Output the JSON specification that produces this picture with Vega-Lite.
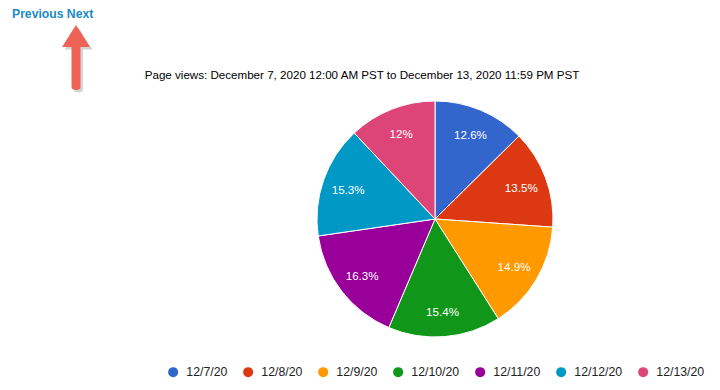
{
  "$schema": "https://vega.github.io/schema/vega-lite/v6.json",
  "autosize": {"type": "none"},
  "width": 236,
  "height": 236,
  "padding": {"left": 317, "top": 101, "right": 167, "bottom": 53},
  "background": "white",
  "config": {"view": {"stroke": null}, "font": "Liberation Sans"},
  "title": {
    "text": "Page views: December 7, 2020 12:00 AM PST to December 13, 2020 11:59 PM PST",
    "anchor": "middle",
    "frame": "group",
    "dx": -73,
    "offset": -83,
    "baseline": "alphabetic",
    "fontSize": 11.6,
    "fontWeight": "normal",
    "font": "Liberation Sans",
    "color": "#000000"
  },
  "data": {
    "values": [
      {"day": "12/7/20", "date": "2020-12-07", "share": 0.126},
      {"day": "12/8/20", "date": "2020-12-08", "share": 0.135},
      {"day": "12/9/20", "date": "2020-12-09", "share": 0.149},
      {"day": "12/10/20", "date": "2020-12-10", "share": 0.154},
      {"day": "12/11/20", "date": "2020-12-11", "share": 0.163},
      {"day": "12/12/20", "date": "2020-12-12", "share": 0.153},
      {"day": "12/13/20", "date": "2020-12-13", "share": 0.12}
    ]
  },
  "layer": [
    {
      "mark": {"type": "arc", "stroke": "white", "strokeWidth": 1},
      "encoding": {
        "theta": {"field": "share", "type": "quantitative", "stack": true},
        "order": {"field": "date", "type": "ordinal"},
        "color": {
          "field": "day",
          "type": "nominal",
          "scale": {
            "domain": ["12/7/20", "12/8/20", "12/9/20", "12/10/20", "12/11/20", "12/12/20", "12/13/20"],
            "range": ["#3366cc", "#dc3912", "#ff9900", "#109618", "#990099", "#0099c6", "#dd4477"]
          },
          "legend": {
            "title": null,
            "orient": "none",
            "legendX": -150,
            "legendY": 265,
            "direction": "horizontal",
            "gridAlign": "none",
            "symbolType": "circle",
            "symbolSize": 100,
            "symbolStrokeWidth": 0,
            "symbolOpacity": 1,
            "labelFontSize": 12.3,
            "labelFont": "Liberation Sans",
            "labelColor": "#222222",
            "labelOffset": 7,
            "columnPadding": 14
          }
        }
      }
    },
    {
      "mark": {"type": "text", "radius": 92, "dy": 2, "color": "white", "fontSize": 11.6, "font": "Liberation Sans", "align": "center", "baseline": "middle"},
      "encoding": {
        "theta": {"field": "share", "type": "quantitative", "stack": true},
        "order": {"field": "date", "type": "ordinal"},
        "text": {"field": "share", "type": "quantitative", "format": ".3~p"}
      }
    },
    {
      "data": {"values": [{"t": "Previous Next"}]},
      "mark": {"type": "text", "x": -305, "y": -87.5, "align": "left", "baseline": "middle", "fontWeight": "bold", "fontSize": 12.2, "font": "Liberation Sans", "color": "#1a8ac6"},
      "encoding": {"text": {"field": "t", "type": "nominal"}}
    },
    {
      "data": {"values": [{"part": "arrow shadow"}]},
      "mark": {"type": "point", "x": -238.5, "y": -41, "shape": "M0,-1L0.43,-0.32L0.138,-0.32L0.138,0.9Q0.138,1 0,1Q-0.138,1 -0.138,0.9L-0.138,-0.32L-0.43,-0.32Z", "size": 4225, "filled": true, "opacity": 0.25, "strokeWidth": 0, "color": "#555555"},
      "encoding": {}
    },
    {
      "data": {"values": [{"part": "arrow"}]},
      "mark": {"type": "point", "x": -241, "y": -43.5, "shape": "M0,-1L0.43,-0.32L0.138,-0.32L0.138,0.9Q0.138,1 0,1Q-0.138,1 -0.138,0.9L-0.138,-0.32L-0.43,-0.32Z", "size": 4225, "filled": true, "opacity": 1, "strokeWidth": 0, "color": "#ef6356"},
      "encoding": {}
    }
  ]
}
